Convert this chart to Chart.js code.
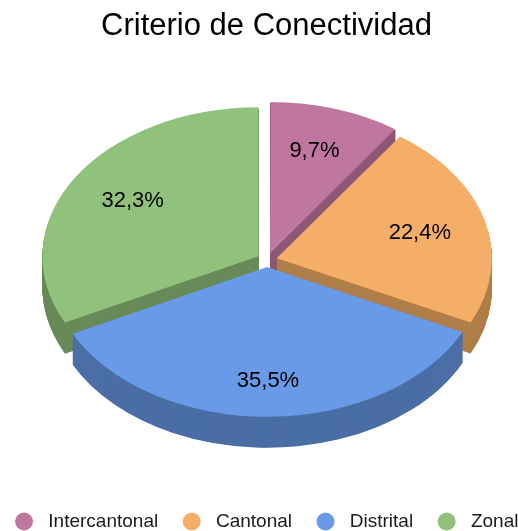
<!DOCTYPE html>
<html>
<head>
<meta charset="utf-8">
<script src="https://cdn.jsdelivr.net/npm/chart.js@4.4.1/dist/chart.umd.min.js"></script>
<style>
  html, body { margin: 0; padding: 0; background: #ffffff; }
  #wrap { width: 518px; height: 531px; position: relative; }
</style>
</head>
<body>
<div id="wrap"><canvas id="c"></canvas></div>
<script>
// ---- data ----
const categories = ['Intercantonal', 'Cantonal', 'Distrital', 'Zonal'];
const values = [9.7, 22.4, 35.5, 32.3];
const valueLabels = ['9,7%', '22,4%', '35,5%', '32,3%'];
const topColors = ['#BF779F', '#F5AE68', '#689AE7', '#91C27B'];
const sideColors = ['#8D5674', '#B07F4A', '#4B6EA6', '#698B59'];
const titleText = 'Criterio de Conectividad';

const FONT = '"Liberation Sans", Arial, Helvetica, sans-serif';

// Plugin: tilt the pie into an ellipse and extrude each slice downward
const pie3d = {
  id: 'pie3d',
  beforeDatasetsDraw(chart, args, opts) {
    const ctx = chart.ctx;
    const arcs = chart.getDatasetMeta(0).data;
    const cx0 = arcs[0].x, cy0 = arcs[0].y;
    ctx.save();
    ctx.translate(opts.centerX, opts.centerY);
    ctx.scale(1, opts.tilt);
    ctx.translate(-cx0, -cy0);
    // painter order: slices facing the viewer last
    const order = arcs.map((a, i) => i).sort((i, j) => {
      const mi = (arcs[i].startAngle + arcs[i].endAngle) / 2;
      const mj = (arcs[j].startAngle + arcs[j].endAngle) / 2;
      return Math.sin(mi) - Math.sin(mj);
    });
    for (let d = opts.depth; d >= 1; d -= 0.5) {
      const dy = d / opts.tilt;
      order.forEach(i => {
        const arc = arcs[i];
        const off = (arc.options.offset || 0) / 4;
        const circ = arc.endAngle - arc.startAngle;
        const fix = 1 - Math.sin(Math.min(Math.PI, circ));
        const r = arc.outerRadius + off * fix;
        const mid = (arc.startAngle + arc.endAngle) / 2;
        const x = arc.x + Math.cos(mid) * off;
        const y = arc.y + Math.sin(mid) * off + dy;
        ctx.beginPath();
        ctx.moveTo(x, y);
        ctx.arc(x, y, r, arc.startAngle, arc.endAngle);
        ctx.closePath();
        ctx.fillStyle = sideColors[i];
        ctx.fill();
      });
    }
  },
  afterDatasetsDraw(chart, args, opts) {
    const ctx = chart.ctx;
    ctx.restore();
    const arcs = chart.getDatasetMeta(0).data;
    ctx.save();
    ctx.font = '22px ' + FONT;
    ctx.fillStyle = '#000000';
    ctx.textAlign = 'center';
    ctx.textBaseline = 'middle';
    arcs.forEach((arc, i) => {
      const off = (arc.options.offset || 0) / 4;
      const mid = (arc.startAngle + arc.endAngle) / 2;
      const r = opts.labelRadius + off;
      const x = opts.centerX + Math.cos(mid) * r;
      const y = opts.centerY + Math.sin(mid) * r * opts.tilt * opts.labelStretchY + opts.labelBias;
      ctx.fillText(valueLabels[i], x, y);
    });
    ctx.restore();
  }
};

new Chart(document.getElementById('c'), {
  type: 'pie',
  data: {
    labels: categories,
    datasets: [{
      data: values,
      backgroundColor: topColors,
      borderWidth: 0,
      offset: 40,
      radius: 215,
      clip: false
    }]
  },
  options: {
    responsive: true,
    maintainAspectRatio: false,
    animation: false,
    events: [],
    layout: { padding: { left: -12, right: -27, top: 0, bottom: -10 } },
    plugins: {
      pie3d: { centerX: 267, centerY: 260, tilt: 0.69, depth: 31, labelRadius: 148, labelStretchY: 1.08, labelBias: 3 },
      tooltip: { enabled: false },
      title: {
        display: true,
        text: titleText,
        color: '#000000',
        font: { family: FONT, size: 31, weight: 'normal' },
        padding: { top: 8, bottom: 10 }
      },
      legend: {
        display: true,
        position: 'bottom',
        labels: {
          usePointStyle: true,
          pointStyle: 'circle',
          boxWidth: 19,
          boxHeight: 12.73,
          padding: 24,
          color: '#1a1a1a',
          font: { family: FONT, size: 19 },
          generateLabels(chart) {
            const base = Chart.overrides.pie.plugins.legend.labels.generateLabels(chart);
            return base.map(item => Object.assign(item, { text: ' ' + item.text }));
          }
        }
      }
    }
  },
  plugins: [pie3d]
});
</script>
</body>
</html>
